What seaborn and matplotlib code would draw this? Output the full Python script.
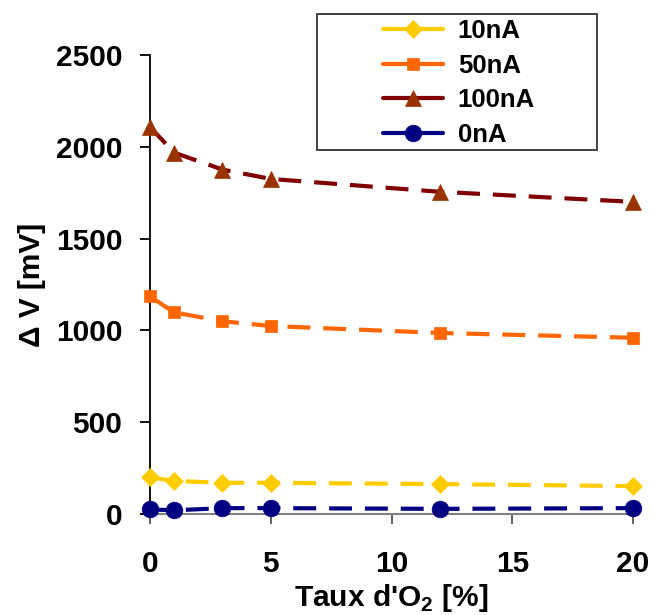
import matplotlib
matplotlib.use("Agg")
import matplotlib.pyplot as plt
from matplotlib.patches import Rectangle
import seaborn as sns
import pandas as pd

x_o2 = [0, 1, 3, 5, 12, 20]
v_10nA = [200, 180, 170, 170, 163, 152]
v_50nA = [1185, 1098, 1050, 1024, 986, 960]
v_100nA = [2108, 1968, 1876, 1825, 1755, 1700]
v_0nA = [25, 20, 32, 32, 28, 32]

series_names = ["10nA", "50nA", "100nA", "0nA"]
series_values = [v_10nA, v_50nA, v_100nA, v_0nA]
line_colors = ["#FFCC00", "#FF6600", "#800000", "#000080"]
marker_colors = ["#FFCC00", "#FF6600", "#993300", "#000080"]
markers = ["D", "s", "^", "o"]
msizes = [9.5, 9, 12, 12]

x_ticks = [0, 5, 10, 15, 20]
y_ticks = [0, 500, 1000, 1500, 2000, 2500]

sns.set_theme(style="white")
plt.rcParams["font.family"] = ["Liberation Sans", "DejaVu Sans"]
plt.rcParams["mathtext.fontset"] = "custom"
plt.rcParams["mathtext.rm"] = "Liberation Sans:bold"
plt.rcParams["mathtext.bf"] = "Liberation Sans:bold"
plt.rcParams["text.color"] = "black"
plt.rcParams["axes.labelcolor"] = "black"
plt.rcParams["xtick.color"] = "black"
plt.rcParams["ytick.color"] = "black"

W, H = 655, 615
fig = plt.figure(figsize=(W / 100, H / 100), dpi=100)
ax = fig.add_axes([150 / W, (H - 514) / H, 483 / W, 459 / H])

rows = []
for name, vals in zip(series_names, series_values):
    for xv, yv in zip(x_o2, vals):
        rows.append({"x": xv, "y": yv, "serie": name})
df = pd.DataFrame(rows)

for name, lc, mc, mk, ms in zip(series_names, line_colors, marker_colors, markers, msizes):
    sub = df[df["serie"] == name]
    sns.lineplot(data=sub, x="x", y="y", ax=ax, color=lc, linewidth=3,
                 marker=mk, markersize=ms, markerfacecolor=mc, markeredgecolor=mc,
                 markeredgewidth=0.5, label=name, clip_on=False, zorder=3)
    ax.lines[-1].set_dashes((5.5, 3.1))

ax.set_xlim(0, 20)
ax.set_ylim(0, 2500)
ax.set_xticks(x_ticks)
ax.set_yticks(y_ticks)
ax.set_xticklabels([str(t) for t in x_ticks], fontsize=21.5, fontweight="bold")
ax.set_yticklabels([str(t) for t in y_ticks], fontsize=21.5, fontweight="bold")
ax.set_xlabel(r"Taux d'O$_{2}$ [%]", fontsize=21.5, fontweight="bold")
ax.set_ylabel("Δ V [mV]", fontsize=21.5, fontweight="bold")
ax.xaxis.set_label_coords(0.5, (514 - 582) / 459)
ax.yaxis.set_label_coords((46 - 150) / 483, 0.5)

for s in ["top", "right"]:
    ax.spines[s].set_visible(False)
ax.spines["left"].set_color("black")
ax.spines["left"].set_linewidth(1.3)
ax.spines["bottom"].set_color("#808080")
ax.spines["bottom"].set_linewidth(1.5)
ax.tick_params(axis="x", direction="out", length=7, width=1.3, color="#555555",
               bottom=True, pad=19)
ax.tick_params(axis="y", direction="out", length=7, width=1.3, color="black",
               left=True, pad=13)

leg = ax.legend(loc="center left", bbox_to_anchor=(383 / W, 1 - 83 / H),
                bbox_transform=fig.transFigure, frameon=False,
                prop={"weight": "bold", "size": 18.5}, handlelength=2.33,
                borderpad=0, labelspacing=0.42, handletextpad=0.58, borderaxespad=0)
for h in leg.get_lines():
    h.set_linestyle("-")
fig.add_artist(Rectangle((317 / W, 1 - 150 / H), (597 - 317) / W, (150 - 14) / H,
                         transform=fig.transFigure, fill=False, edgecolor="#333333",
                         linewidth=1.3, zorder=5))

fig.savefig("out.png", dpi=100, facecolor="white")
